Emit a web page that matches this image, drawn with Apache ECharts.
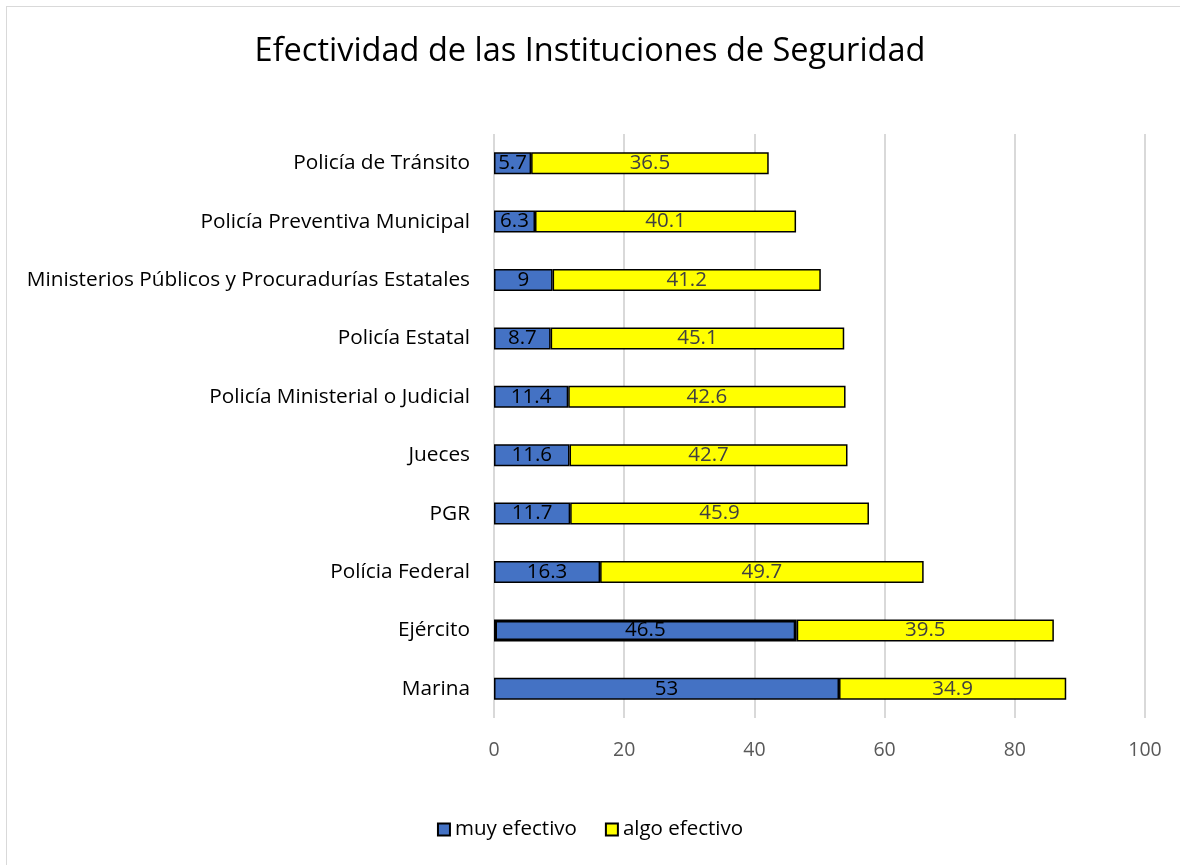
<!DOCTYPE html>
<html>
<head>
<meta charset="utf-8">
<script src="https://cdn.jsdelivr.net/npm/echarts@6/dist/echarts.min.js"></script>
<style>
  html, body { margin: 0; padding: 0; background: #fff; }
  #frame { position: absolute; left: 6px; top: 6px; width: 1200px; height: 900px; border: 1px solid #d9d9d9; box-sizing: border-box; }
  #chart { position: absolute; left: 0; top: 0; width: 1180px; height: 865px; }
</style>
</head>
<body>
<div id="frame"></div>
<div id="chart"></div>
<script>
const categories = ['Marina', 'Ejército', 'Polícia Federal', 'PGR', 'Jueces',
  'Policía Ministerial o Judicial', 'Policía Estatal',
  'Ministerios Públicos y Procuradurías Estatales',
  'Policía Preventiva Municipal', 'Policía de Tránsito'];
const muyEfectivo = [53, 46.5, 16.3, 11.7, 11.6, 11.4, 8.7, 9, 6.3, 5.7];
const algoEfectivo = [34.9, 39.5, 49.7, 45.9, 42.7, 42.6, 45.1, 41.2, 40.1, 36.5];
const xTicks = [0, 20, 40, 60, 80, 100];

const font = '"Open Sans", Lato, sans-serif';
const chart = echarts.init(document.getElementById('chart'));

chart.setOption({
  backgroundColor: 'transparent',
  textStyle: { fontFamily: font },
  title: {
    text: 'Efectividad de las Instituciones de Seguridad',
    left: 'center',
    top: 30,
    textStyle: { fontFamily: font, fontSize: 32.5, fontWeight: 'normal', color: '#000' }
  },
  legend: {
    bottom: 20,
    left: 'center',
    icon: 'rect',
    itemWidth: 12,
    itemHeight: 12,
    itemGap: 28,
    itemTextGap: 5,
    textStyle: { fontFamily: font, fontSize: 20.5, color: '#000' },
    data: ['muy efectivo', 'algo efectivo']
  },
  grid: { left: 494, right: 35, top: 134, bottom: 147 },
  xAxis: {
    type: 'value',
    min: xTicks[0],
    max: xTicks[xTicks.length - 1],
    interval: 20,
    axisLine: { show: false },
    axisTick: { show: false },
    axisLabel: { fontFamily: font, fontSize: 19.5, color: '#595959', margin: 22 },
    splitLine: { lineStyle: { color: '#d9d9d9', width: 2 } }
  },
  yAxis: {
    type: 'category',
    data: categories,
    axisLine: { show: false },
    axisTick: { show: false },
    axisLabel: { fontFamily: font, fontSize: 20.8, color: '#000', margin: 24 }
  },
  series: [
    {
      name: 'muy efectivo',
      type: 'bar',
      stack: 'total',
      barWidth: 22,
      itemStyle: { color: '#4472c4', borderColor: '#000', borderWidth: 1.5 },
      label: { show: true, position: 'inside', fontFamily: font, fontSize: 20.5, color: '#000' },
      data: muyEfectivo.map((v, i) => categories[i] === 'Ejército'
        ? { value: v, itemStyle: { borderWidth: 3 } }
        : v)
    },
    {
      name: 'algo efectivo',
      type: 'bar',
      stack: 'total',
      barWidth: 22,
      itemStyle: { color: '#ffff00', borderColor: '#000', borderWidth: 1.5 },
      label: { show: true, position: 'inside', fontFamily: font, fontSize: 20.5, color: '#404040' },
      data: algoEfectivo
    }
  ]
});
</script>
</body>
</html>
